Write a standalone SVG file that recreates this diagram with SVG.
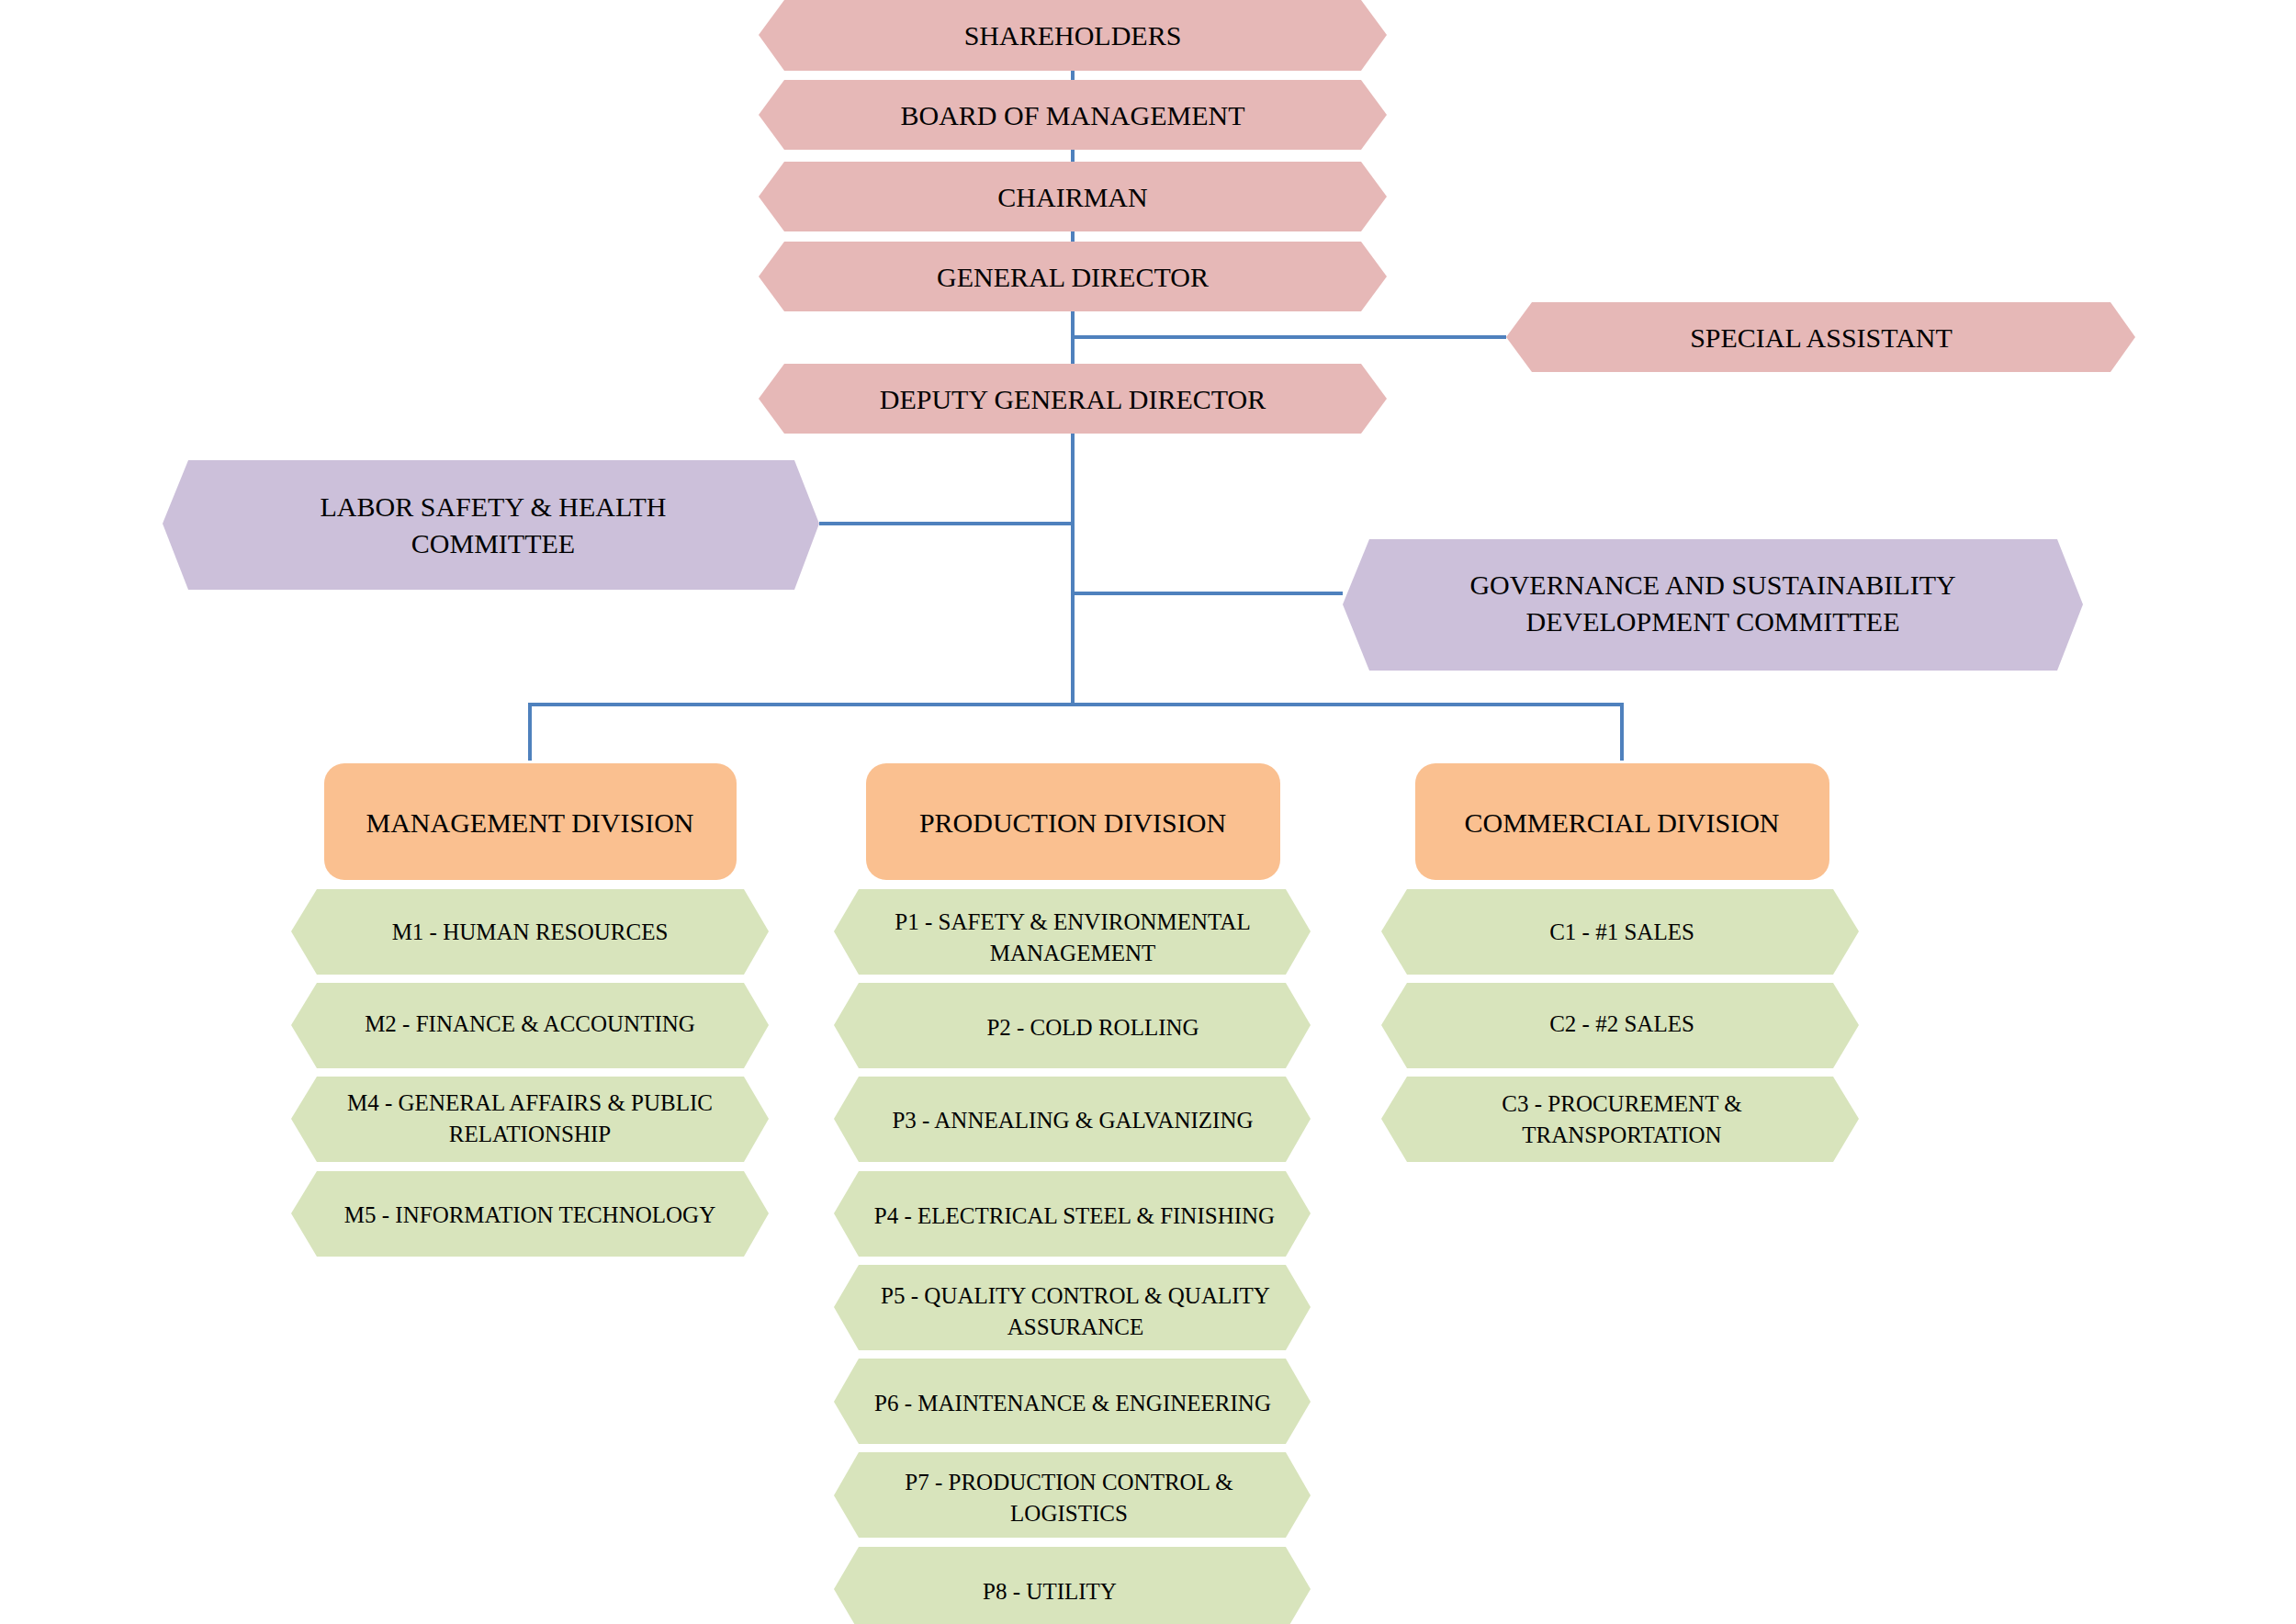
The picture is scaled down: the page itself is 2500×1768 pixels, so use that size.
<svg xmlns="http://www.w3.org/2000/svg" width="2500" height="1768" viewBox="0 0 2500 1768">
<style>
.pk{fill:#E6B8B7}.pu{fill:#CCC0DA}.or{fill:#FAC090}.gr{fill:#D8E4BC}
text{font-family:"Liberation Serif","Times New Roman",serif;fill:#000;text-anchor:middle;dominant-baseline:central}
.t{font-size:30px}.s{font-size:25px}
.c{fill:none;stroke:#4F81BD;stroke-width:4}
</style>
<rect width="2500" height="1768" fill="#fff"/>
<g id="connectors">
<path class="c" d="M1168 40V767M1168 367H1640M1168 570H892M1168 646H1462M577 828V767H1766V828"/>
</g>
<g id="shareholders"><polygon class="pk" points="826,38 854,0 1482,0 1510,38 1482,77 854,77"/><text class="t" x="1168" y="38">SHAREHOLDERS</text></g>
<g id="board"><polygon class="pk" points="826,125 854,87 1482,87 1510,125 1482,163 854,163"/><text class="t" x="1168" y="125">BOARD OF MANAGEMENT</text></g>
<g id="chairman"><polygon class="pk" points="826,214 854,176 1482,176 1510,214 1482,252 854,252"/><text class="t" x="1168" y="214">CHAIRMAN</text></g>
<g id="gd"><polygon class="pk" points="826,301 854,263 1482,263 1510,301 1482,339 854,339"/><text class="t" x="1168" y="301">GENERAL DIRECTOR</text></g>
<g id="deputy"><polygon class="pk" points="826,434 854,396 1482,396 1510,434 1482,472 854,472"/><text class="t" x="1168" y="434">DEPUTY GENERAL DIRECTOR</text></g>
<g id="special"><polygon class="pk" points="1640,367 1668,329 2298,329 2325,367 2298,405 1668,405"/><text class="t" x="1983" y="367">SPECIAL ASSISTANT</text></g>
<g id="labor"><polygon class="pu" points="177,570 205,501 865,501 892,570 865,642 205,642"/><text class="t" x="537" y="551">LABOR SAFETY &amp; HEALTH</text><text class="t" x="537" y="591">COMMITTEE</text></g>
<g id="governance"><polygon class="pu" points="1462,658 1491,587 2240,587 2268,658 2240,730 1491,730"/><text class="t" x="1865" y="636">GOVERNANCE AND SUSTAINABILITY</text><text class="t" x="1865" y="676">DEVELOPMENT COMMITTEE</text></g>
<g id="mgmt"><rect class="or" x="353" y="831" width="449" height="127" rx="22"/><text class="t" x="577" y="895">MANAGEMENT DIVISION</text></g>
<g id="prod"><rect class="or" x="943" y="831" width="451" height="127" rx="22"/><text class="t" x="1168" y="895">PRODUCTION DIVISION</text></g>
<g id="comm"><rect class="or" x="1541" y="831" width="451" height="127" rx="22"/><text class="t" x="1766" y="895">COMMERCIAL DIVISION</text></g>
<g id="m1"><polygon class="gr" points="317,1014 345,968 810,968 837,1014 810,1061 345,1061"/><text class="s" x="577" y="1014">M1 - HUMAN RESOURCES</text></g>
<g id="m2"><polygon class="gr" points="317,1116 345,1070 810,1070 837,1116 810,1163 345,1163"/><text class="s" x="577" y="1114">M2 - FINANCE &amp; ACCOUNTING</text></g>
<g id="m4"><polygon class="gr" points="317,1218 345,1172 810,1172 837,1218 810,1265 345,1265"/><text class="s" x="577" y="1200">M4 - GENERAL AFFAIRS &amp; PUBLIC</text><text class="s" x="577" y="1234">RELATIONSHIP</text></g>
<g id="m5"><polygon class="gr" points="317,1321 345,1275 810,1275 837,1321 810,1368 345,1368"/><text class="s" x="577" y="1322">M5 - INFORMATION TECHNOLOGY</text></g>
<g id="p1"><polygon class="gr" points="908,1014 935,968 1400,968 1427,1014 1400,1061 935,1061"/><text class="s" x="1168" y="1003">P1 - SAFETY &amp; ENVIRONMENTAL</text><text class="s" x="1168" y="1037">MANAGEMENT</text></g>
<g id="p2"><polygon class="gr" points="908,1116 935,1070 1400,1070 1427,1116 1400,1163 935,1163"/><text class="s" x="1190" y="1118">P2 - COLD ROLLING</text></g>
<g id="p3"><polygon class="gr" points="908,1218 935,1172 1400,1172 1427,1218 1400,1265 935,1265"/><text class="s" x="1168" y="1219">P3 - ANNEALING &amp; GALVANIZING</text></g>
<g id="p4"><polygon class="gr" points="908,1321 935,1275 1400,1275 1427,1321 1400,1368 935,1368"/><text class="s" x="1170" y="1323">P4 - ELECTRICAL STEEL &amp; FINISHING</text></g>
<g id="p5"><polygon class="gr" points="908,1423 935,1377 1400,1377 1427,1423 1400,1470 935,1470"/><text class="s" x="1171" y="1410">P5 - QUALITY CONTROL &amp; QUALITY</text><text class="s" x="1171" y="1444">ASSURANCE</text></g>
<g id="p6"><polygon class="gr" points="908,1526 935,1479 1400,1479 1427,1526 1400,1572 935,1572"/><text class="s" x="1168" y="1527">P6 - MAINTENANCE &amp; ENGINEERING</text></g>
<g id="p7"><polygon class="gr" points="908,1628 935,1581 1400,1581 1427,1628 1400,1674 935,1674"/><text class="s" x="1164" y="1613">P7 - PRODUCTION CONTROL &amp;</text><text class="s" x="1164" y="1647">LOGISTICS</text></g>
<g id="p8"><polygon class="gr" points="908,1730 935,1684 1400,1684 1427,1730 1400,1776 935,1776"/><text class="s" x="1143" y="1732">P8 - UTILITY</text></g>
<g id="c1"><polygon class="gr" points="1504,1014 1532,968 1996,968 2024,1014 1996,1061 1532,1061"/><text class="s" x="1766" y="1014">C1 - #1 SALES</text></g>
<g id="c2"><polygon class="gr" points="1504,1116 1532,1070 1996,1070 2024,1116 1996,1163 1532,1163"/><text class="s" x="1766" y="1114">C2 - #2 SALES</text></g>
<g id="c3"><polygon class="gr" points="1504,1218 1532,1172 1996,1172 2024,1218 1996,1265 1532,1265"/><text class="s" x="1766" y="1201">C3 - PROCUREMENT &amp;</text><text class="s" x="1766" y="1235">TRANSPORTATION</text></g>
</svg>
